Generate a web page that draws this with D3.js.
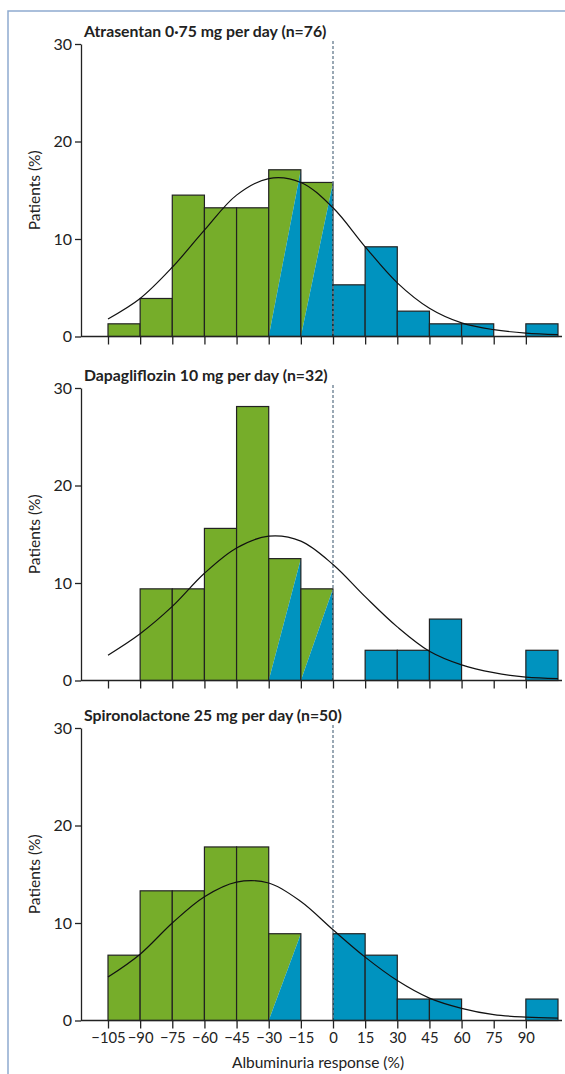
<!DOCTYPE html>
<html>
<head>
<meta charset="utf-8">
<script src="https://d3js.org/d3.v7.min.js"></script>
<style>
  body { margin: 0; background: #fff; }
  text { font-family: Lato, "Open Sans", sans-serif; fill: #222; }
</style>
</head>
<body>
<svg id="chart" width="565" height="1074"></svg>
<script>
    // bins of 15 percentage points, lower edges
    var binStarts = [-105, -90, -75, -60, -45, -30, -15, 0, 15, 30, 45, 60, 75, 90];
    var binWidth = 15;
    var xTicks = [-105, -90, -75, -60, -45, -30, -15, 0, 15, 30, 45, 60, 75, 90];
    var yTicks = [0, 10, 20, 30];
    var titles = ["Atrasentan 0·75 mg per day (n=76)", "Dapagliflozin 10 mg per day (n=32)", "Spironolactone 25 mg per day (n=50)"];

    // patients (%) per bin
    var atrasentan = [1.3, 3.9, 14.5, 13.2, 13.2, 17.1, 15.8, 5.3, 9.2, 2.6, 1.3, 1.3, 0, 1.3];
    var dapagliflozin = [0, 9.4, 9.4, 15.6, 28.1, 12.5, 9.4, 0, 3.1, 3.1, 6.3, 0, 0, 3.1];
    var spironolactone = [6.7, 13.3, 13.3, 17.8, 17.8, 8.9, 0, 8.9, 6.7, 2.2, 2.2, 0, 0, 2.2];

    var curveX = [-105, -90, -75, -60, -45, -30, -15, 0, 15, 30, 45, 60, 75, 90, 105];
    var atrasentanCurve = [1.8, 3.9, 7.1, 10.9, 14.5, 16.2, 15.8, 13.2, 9.2, 5.5, 2.9, 1.4, 0.7, 0.35, 0.2];
    var dapagliflozinCurve = [2.6, 4.8, 7.6, 11.0, 13.6, 14.8, 14.3, 11.9, 8.6, 5.5, 3.0, 1.6, 0.8, 0.35, 0.2];
    var spironolactoneCurve = [4.45, 6.8, 10.0, 12.7, 14.2, 14.1, 12.2, 9.3, 6.5, 4.1, 2.3, 1.25, 0.6, 0.35, 0.25];

    var panelValues = [atrasentan, dapagliflozin, spironolactone];
    var panelCurves = [atrasentanCurve, dapagliflozinCurve, spironolactoneCurve];

    var green = "#76ad2a";
    var blue = "#0093bf";
    var ink = "#222";
    var panelTops = [44, 388, 728];
    var panelHeight = 292.5;
    var axisX = 81;

    var svg = d3.select("#chart");

    // frame
    svg.append("path")
        .attr("d", "M8,1074 L8,11 L565,11")
        .attr("fill", "none")
        .attr("stroke", "#8eaacf")
        .attr("stroke-width", 1.5);

    var x = d3.scaleLinear().domain([-105, 105]).range([108, 558]);

    for (let i = 0; i < 3; i++) {
        let pTop = panelTops[i];
        let y = d3.scaleLinear().domain([0, 30]).range([pTop + panelHeight, pTop]);
        let g = svg.append("g");
        let vals = panelValues[i];

        for (let j = 0; j < binStarts.length; j++) {
            let v = vals[j];
            if (!v) continue;
            let b = binStarts[j];
            let x0 = x(b), x1 = x(b + binWidth), y0 = y(0), y1 = y(v);
            if (b < -30) {
                g.append("rect").attr("x", x0).attr("y", y1).attr("width", x1 - x0).attr("height", y0 - y1)
                    .attr("fill", green);
            } else if (b >= 0) {
                g.append("rect").attr("x", x0).attr("y", y1).attr("width", x1 - x0).attr("height", y0 - y1)
                    .attr("fill", blue);
            } else {
                g.append("polygon").attr("points", [[x0, y0], [x0, y1], [x1, y1]].join(" "))
                    .attr("fill", green);
                g.append("polygon").attr("points", [[x0, y0], [x1, y1], [x1, y0]].join(" "))
                    .attr("fill", blue);
            }
            g.append("rect").attr("x", x0).attr("y", y1).attr("width", x1 - x0).attr("height", y0 - y1)
                .attr("fill", "none")
                .attr("stroke", ink)
                .attr("stroke-width", 1.2);
        }

        // reference line at 0
        g.append("line")
            .attr("x1", x(0)).attr("x2", x(0))
            .attr("y1", y(30) - 3).attr("y2", y(0))
            .attr("stroke", "#6f8495")
            .attr("stroke-width", 1.4)
            .attr("stroke-dasharray", "3,2");

        // fitted curve
        let pts = curveX.map(function (cx, k) { return [cx, panelCurves[i][k]]; });
        g.append("path")
            .attr("d", d3.line().x(function (d) { return x(d[0]); }).y(function (d) { return y(d[1]); })
                .curve(d3.curveCatmullRom.alpha(0.5))(pts))
            .attr("fill", "none")
            .attr("stroke", "#111")
            .attr("stroke-width", 1.2);

        // y axis
        let ya = g.append("g")
            .attr("transform", "translate(" + axisX + ",0)")
            .call(d3.axisLeft(y).tickValues(yTicks).tickSize(6).tickSizeOuter(0).tickPadding(3));
        ya.select(".domain").attr("stroke", ink).attr("stroke-width", 1.3);
        ya.selectAll(".tick line").attr("stroke", ink).attr("stroke-width", 1.3);
        ya.selectAll(".tick text").attr("font-size", 16).attr("fill", ink).attr("font-family", "Lato");

        // x axis
        let xa = g.append("g")
            .attr("transform", "translate(0," + y(0) + ")")
            .call(d3.axisBottom(x).tickValues(xTicks).tickSize(8).tickSizeOuter(0).tickPadding(4));
        xa.select(".domain").remove();
        xa.selectAll(".tick line").attr("stroke", ink).attr("stroke-width", 1.3);
        if (i < 2) {
            xa.selectAll(".tick text").remove();
        } else {
            xa.selectAll(".tick text").attr("font-size", 14.8).attr("fill", ink).attr("font-family", "Lato");
        }
        g.append("line")
            .attr("x1", axisX).attr("x2", x(105) + 4)
            .attr("y1", y(0)).attr("y2", y(0))
            .attr("stroke", ink)
            .attr("stroke-width", 1.3);

        // title
        g.append("text")
            .attr("x", axisX + 3)
            .attr("y", pTop - 7)
            .attr("font-size", 15.8)
            .attr("font-weight", "bold")
            .attr("fill", "#111")
            .text(titles[i]);

        // y label
        g.append("text")
            .attr("transform", "translate(40," + (pTop + panelHeight / 2) + ") rotate(-90)")
            .attr("text-anchor", "middle")
            .attr("font-size", 15.5)
            .text("Patients (%)");
    }

    svg.append("text")
        .attr("x", x(-7))
        .attr("y", 1068)
        .attr("text-anchor", "middle")
        .attr("font-size", 15.5)
        .text("Albuminuria response (%)");
</script>
</body>
</html>
